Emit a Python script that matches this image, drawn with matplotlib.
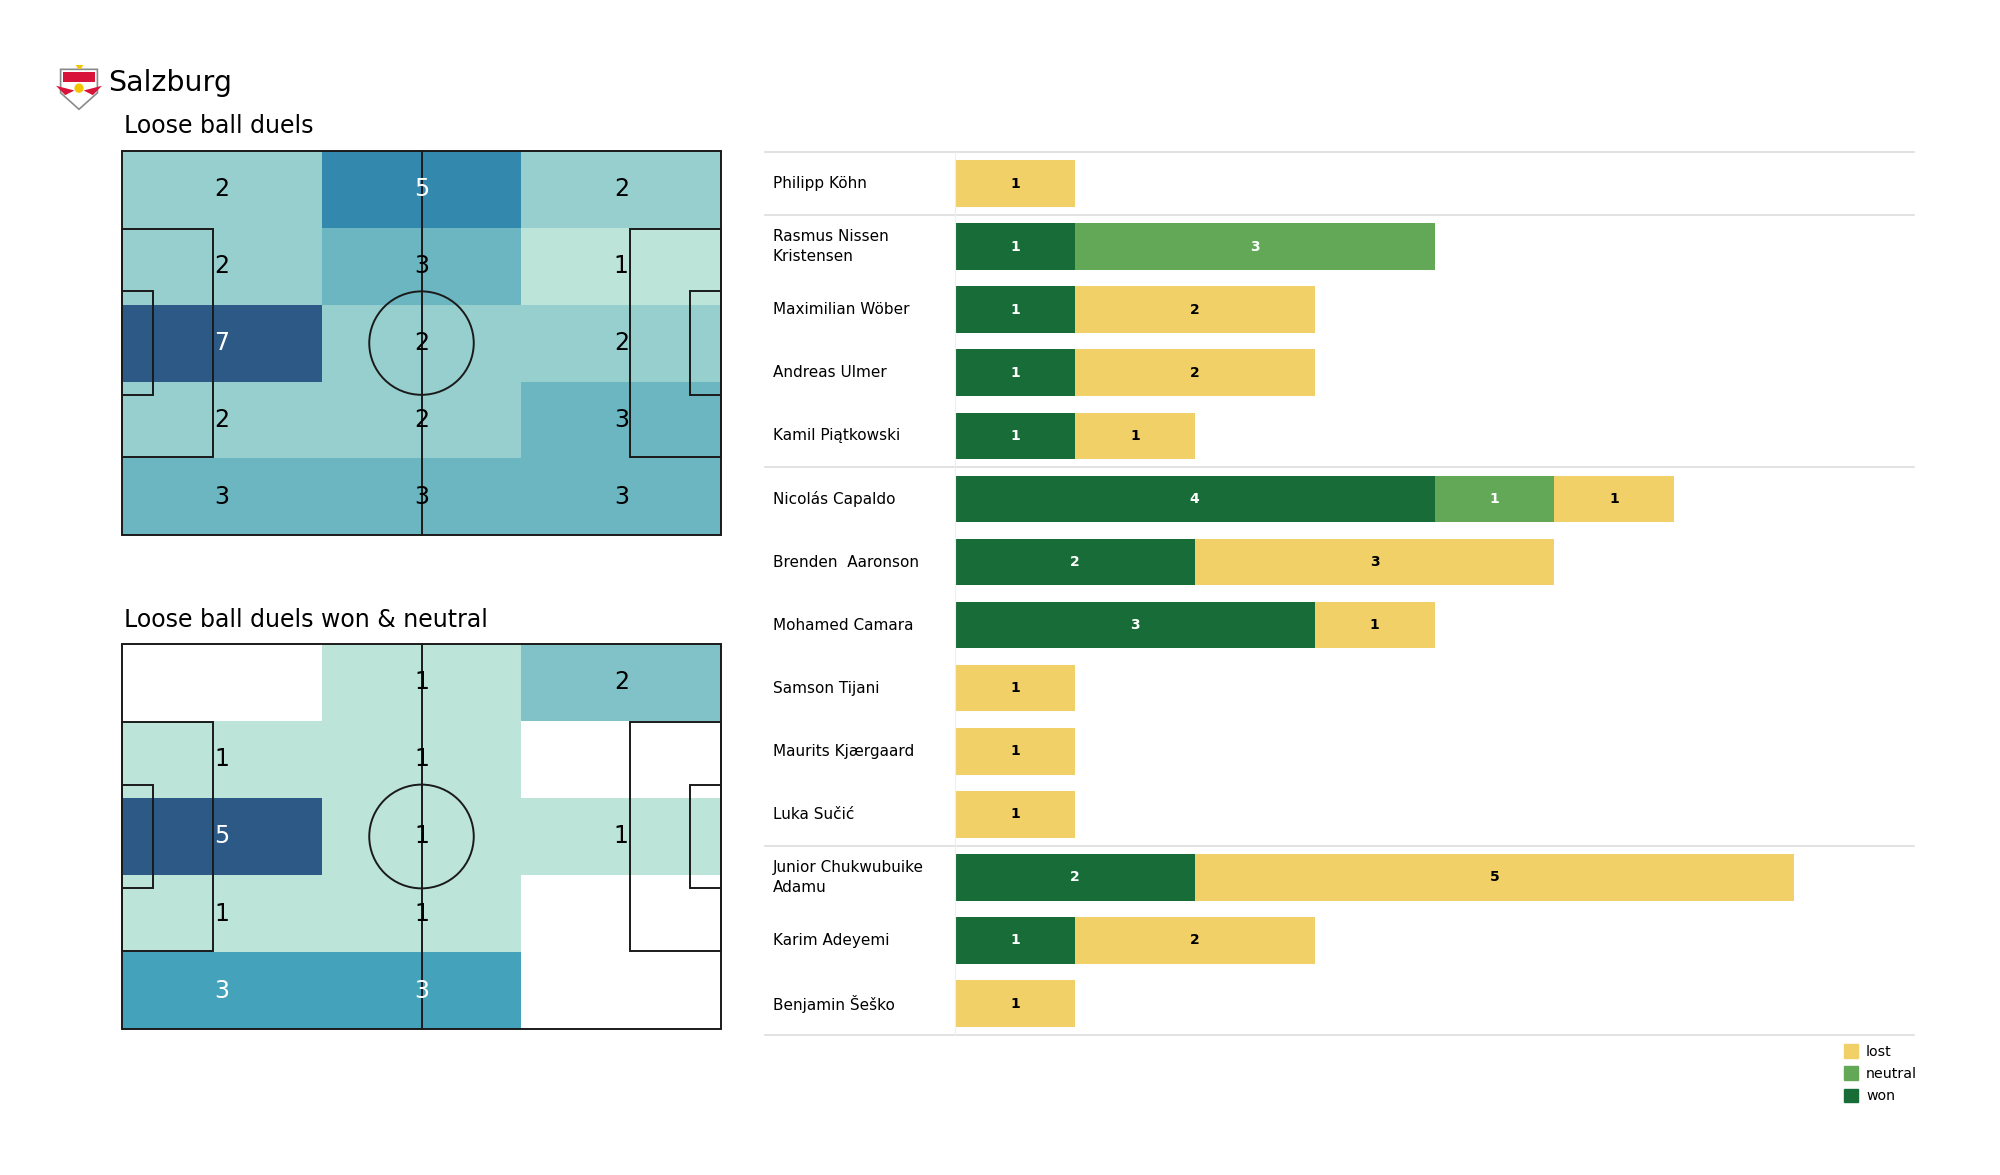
import textwrap
import numpy as np
import matplotlib.pyplot as plt
from matplotlib.colors import LinearSegmentedColormap
from matplotlib.patches import Rectangle, Circle, Polygon, Patch

# pitch grids: rows top -> bottom, columns left -> right
duels = np.array([[2, 5, 2],
                  [2, 3, 1],
                  [7, 2, 2],
                  [2, 2, 3],
                  [3, 3, 3]])
duels_won = np.array([[0, 1, 2],
                      [1, 1, 0],
                      [5, 1, 1],
                      [1, 1, 0],
                      [3, 3, 0]])

players = ["Philipp Köhn", "Rasmus Nissen Kristensen", "Maximilian Wöber",
           "Andreas Ulmer", "Kamil Piątkowski", "Nicolás Capaldo",
           "Brenden  Aaronson", "Mohamed Camara", "Samson Tijani",
           "Maurits Kjærgaard", "Luka Sučić", "Junior Chukwubuike Adamu",
           "Karim Adeyemi", "Benjamin Šeško"]
won = [0, 1, 1, 1, 1, 4, 2, 3, 0, 0, 0, 2, 1, 0]
neutral = [0, 3, 0, 0, 0, 1, 0, 0, 0, 0, 0, 0, 0, 0]
lost = [1, 0, 2, 2, 1, 1, 3, 1, 1, 1, 1, 5, 2, 1]
group_breaks = [0.5, 4.5, 10.5]

c_won = "#176c38"
c_neutral = "#62a857"
c_lost = "#f1d067"

cmap = LinearSegmentedColormap.from_list(
    "pitch", [(0, "#bce4d8"), (0.17, "#96cecf"), (0.33, "#6db6c2"),
              (0.5, "#45a2bb"), (0.67, "#3387ad"), (1, "#2c5985")])

fig = plt.figure(figsize=(20, 11.75), dpi=100)


def draw_pitch(ax, grid):
    L, W = 105, 68
    nr, nc = grid.shape
    xe = np.linspace(0, L, nc + 1)
    ye = np.linspace(0, W, nr + 1)
    vmax = grid.max()
    for r in range(nr):
        for c in range(nc):
            v = grid[r, c]
            if v == 0:
                continue
            f = (v - 1) / (vmax - 1)
            ax.add_patch(Rectangle((xe[c], ye[r]), xe[c + 1] - xe[c], ye[r + 1] - ye[r],
                                   facecolor=cmap(f), edgecolor="none", zorder=1))
            ax.text((xe[c] + xe[c + 1]) / 2, (ye[r] + ye[r + 1]) / 2, str(v),
                    ha="center", va="center", fontsize=17,
                    color="white" if f >= 0.5 else "black", zorder=3)
    lc = "#1a1a1a"
    lw = 1.4
    ax.add_patch(Rectangle((0, 0), L, W, fill=False, ec=lc, lw=lw, zorder=2))
    ax.plot([L / 2, L / 2], [0, W], color=lc, lw=lw, zorder=2)
    ax.add_patch(Circle((L / 2, W / 2), 9.15, fill=False, ec=lc, lw=lw, zorder=2))
    for x0, s in [(0, 1), (L, -1)]:
        ax.add_patch(Rectangle((x0, W / 2 - 20.16), s * 16.0, 40.32, fill=False, ec=lc, lw=lw, zorder=2))
        ax.add_patch(Rectangle((x0, W / 2 - 9.16), s * 5.5, 18.32, fill=False, ec=lc, lw=lw, zorder=2))
    ax.set_xlim(-0.3, L + 0.3)
    ax.set_ylim(W + 0.3, -0.3)
    ax.axis("off")


ax1 = fig.add_axes([0.06, 0.543, 0.3015, 0.330])
draw_pitch(ax1, duels)
ax2 = fig.add_axes([0.06, 0.1226, 0.3015, 0.331])
draw_pitch(ax2, duels_won)

fig.text(0.054, 0.929, "Salzburg", fontsize=20.5, va="center", ha="left")
fig.text(0.062, 0.893, "Loose ball duels", fontsize=17, va="center", ha="left")
fig.text(0.062, 0.472, "Loose ball duels won & neutral", fontsize=17, va="center", ha="left")

# simple badge in place of the club logo
axl = fig.add_axes([0.028, 0.905, 0.023, 0.04])
axl.add_patch(Polygon([[0.1, 0.9], [0.9, 0.9], [0.9, 0.4], [0.5, 0.05], [0.1, 0.4]],
                      closed=True, fc="white", ec="#8a8a8a", lw=1.2))
axl.add_patch(Rectangle((0.15, 0.62), 0.7, 0.22, fc="#d8143a", ec="none"))
axl.add_patch(Circle((0.5, 0.5), 0.1, fc="#f5c400", ec="none"))
axl.add_patch(Polygon([[0.0, 0.55], [0.4, 0.45], [0.2, 0.35]], fc="#d8143a", ec="none"))
axl.add_patch(Polygon([[1.0, 0.55], [0.6, 0.45], [0.8, 0.35]], fc="#d8143a", ec="none"))
axl.plot([0.5], [0.97], marker="*", color="#f5c400", ms=4)
axl.set_xlim(0, 1)
axl.set_ylim(0, 1)
axl.axis("off")

# stacked bars
axb = fig.add_axes([0.4775, 0.1191, 0.4795, 0.7515])
y = np.arange(len(players))
won_a = np.array(won)
neu_a = np.array(neutral)
lost_a = np.array(lost)
h = 0.74
axb.barh(y, won_a, height=h, color=c_won, label="won")
axb.barh(y, neu_a, left=won_a, height=h, color=c_neutral, label="neutral")
axb.barh(y, lost_a, left=won_a + neu_a, height=h, color=c_lost, label="lost")
for i in range(len(players)):
    start = 0
    for val, col in [(won[i], "white"), (neutral[i], "white"), (lost[i], "black")]:
        if val > 0:
            axb.text(start + val / 2, i, str(val), ha="center", va="center",
                     fontsize=10, fontweight="bold", color=col)
        start += val
    axb.text(-0.19, i, textwrap.fill(players[i], 18), transform=axb.get_yaxis_transform(),
             ha="left", va="center", fontsize=11, linespacing=1.4)

axb.set_xlim(0, 8)
axb.set_ylim(len(players) - 0.5, -0.5)
axb.set_xticks([])
axb.set_yticks([])
for s in ["top", "right", "bottom"]:
    axb.spines[s].set_visible(False)
axb.spines["left"].set_color("#eeeeee")
for yb in [-0.5] + group_breaks + [len(players) - 0.5]:
    axb.plot([-0.198, 1], [yb, yb], transform=axb.get_yaxis_transform(),
             color="#dddddd", lw=1.2, clip_on=False)

handles = [Patch(color=c_lost, label="lost"), Patch(color=c_neutral, label="neutral"),
           Patch(color=c_won, label="won")]
fig.legend(handles=handles, loc="upper left", bbox_to_anchor=(0.9185, 0.1175),
           frameon=False, fontsize=10.2, handlelength=1.0, handleheight=1.1,
           handletextpad=0.55, labelspacing=0.55, borderpad=0)

fig.savefig("out.png", dpi=100, facecolor="white")
